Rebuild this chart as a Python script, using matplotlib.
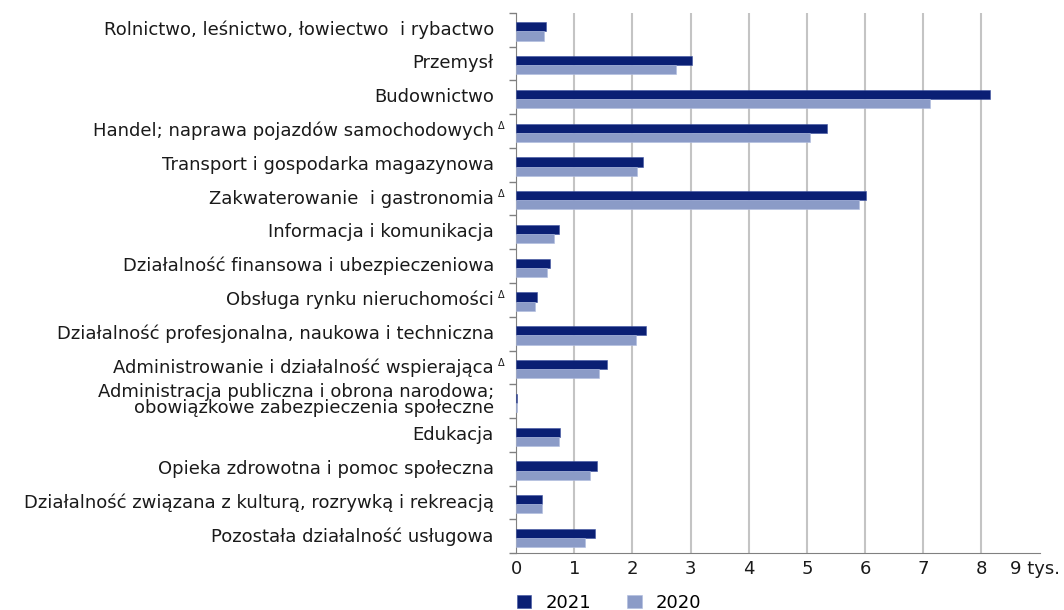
import numpy as np
import matplotlib.pyplot as plt
import matplotlib.transforms as mtransforms

# dane (tys.)
categories = [
    "Rolnictwo, leśnictwo, łowiectwo  i rybactwo",
    "Przemysł",
    "Budownictwo",
    "Handel; naprawa pojazdów samochodowych",
    "Transport i gospodarka magazynowa",
    "Zakwaterowanie  i gastronomia",
    "Informacja i komunikacja",
    "Działalność finansowa i ubezpieczeniowa",
    "Obsługa rynku nieruchomości",
    "Działalność profesjonalna, naukowa i techniczna",
    "Administrowanie i działalność wspierająca",
    "Administracja publiczna i obrona narodowa;\nobowiązkowe zabezpieczenia społeczne",
    "Edukacja",
    "Opieka zdrowotna i pomoc społeczna",
    "Działalność związana z kulturą, rozrywką i rekreacją",
    "Pozostała działalność usługowa",
]
delta_marked = [False, False, False, True, False, True, False, False,
                True, False, True, False, False, False, False, False]
v2021 = [0.52, 3.02, 8.15, 5.35, 2.19, 6.01, 0.73, 0.59,
         0.36, 2.24, 1.56, 0.02, 0.76, 1.39, 0.44, 1.36]
v2020 = [0.475, 2.75, 7.12, 5.06, 2.08, 5.90, 0.66, 0.54,
         0.32, 2.06, 1.42, 0.01, 0.73, 1.28, 0.45, 1.19]
xticks = [0, 1, 2, 3, 4, 5, 6, 7, 8, 9]
xticklabels = ["0", "1", "2", "3", "4", "5", "6", "7", "8", "9 tys."]

c21 = "#0a1f74"
c20 = "#8b9bc7"
txt = "#1a1a1a"

plt.rcParams['font.family'] = ['DejaVu Sans']

fig = plt.figure(figsize=(10.64, 6.10), dpi=100)
ax = fig.add_axes([0.485, 0.093, 0.492, 0.886])

n = len(categories)
y = np.arange(n)
h = 0.27
ax.barh(y - h / 2 + 0.05, v2021, height=h, color=c21, edgecolor="#3f53a0",
        linewidth=0.4, label="2021", zorder=3)
ax.barh(y + h / 2 + 0.05, v2020, height=h, color=c20, edgecolor="#b0bce0",
        linewidth=0.4, label="2020", zorder=3)

ax.set_ylim(n - 0.5, -0.5)
ax.set_xlim(0, 9)
ax.set_yticks(y - 0.06)
ax.set_yticklabels(categories, fontsize=13, color=txt, linespacing=0.82,
                   multialignment='right')
ax.set_yticks(np.arange(-0.5, n, 1), minor=True)
ax.tick_params(axis='y', which='major', length=0, pad=16)
ax.tick_params(axis='y', which='minor', length=5, color="#808080", width=1)

ax.set_xticks(xticks)
ax.set_xticklabels(xticklabels, fontsize=13, color=txt)
ax.tick_params(axis='x', length=0, pad=5)
# "9 tys." troche w lewo, zeby sie zmiescilo
last = ax.get_xticklabels()[-1]
last.set_transform(last.get_transform() +
                   mtransforms.ScaledTranslation(-5 / 100, 0, fig.dpi_scale_trans))

ax.grid(axis='x', color="#c4c4c4", linewidth=1.5, zorder=0)
ax.get_xgridlines()[-1].set_visible(False)
for s in ['top', 'right']:
    ax.spines[s].set_visible(False)
ax.spines['left'].set_color("#808080")
ax.spines['bottom'].set_color("#808080")

for i, d in enumerate(delta_marked):
    if d:
        ax.annotate("Δ", xy=(0, i - 0.06), xycoords=('axes fraction', 'data'),
                    xytext=(-11, 2), textcoords='offset points',
                    ha='center', va='center', fontsize=7, color=txt)

ax.legend(loc='upper left', bbox_to_anchor=(-0.03, -0.045), ncol=2,
          frameon=False, fontsize=13, handlelength=0.8, handleheight=0.8,
          columnspacing=2.0, handletextpad=0.8)

fig.savefig("out.png", dpi=100)
